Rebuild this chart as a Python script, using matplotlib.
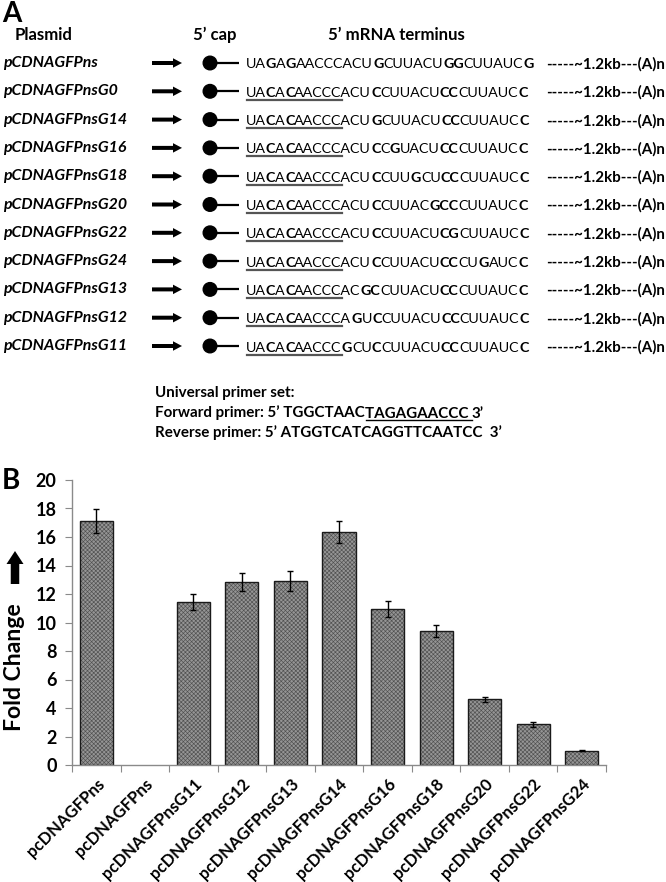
import numpy as np
import matplotlib
matplotlib.use("Agg")
import matplotlib.pyplot as plt
from matplotlib.patches import FancyArrow, Circle

plt.rcParams['font.family'] = ['Lato', 'DejaVu Sans']
plt.rcParams['hatch.linewidth'] = 0.45

# ---- panel A data ----
plasmids = ["pCDNAGFPns", "pCDNAGFPnsG0", "pCDNAGFPnsG14", "pCDNAGFPnsG16",
            "pCDNAGFPnsG18", "pCDNAGFPnsG20", "pCDNAGFPnsG22", "pCDNAGFPnsG24",
            "pCDNAGFPnsG13", "pCDNAGFPnsG12", "pCDNAGFPnsG11"]
# [..] = bold letters
sequences = ["UA[G]A[G]AACCCACU[G]CUUACU[GG]CUUAUC[G]",
             "UA[C]A[C]AACCCACU[C]CUUACU[CC]CUUAUC[C]",
             "UA[C]A[C]AACCCACU[G]CUUACU[CC]CUUAUC[C]",
             "UA[C]A[C]AACCCACU[C]C[G]UACU[CC]CUUAUC[C]",
             "UA[C]A[C]AACCCACU[C]CUU[G]CU[CC]CUUAUC[C]",
             "UA[C]A[C]AACCCACU[C]CUUAC[GCC]CUUAUC[C]",
             "UA[C]A[C]AACCCACU[C]CUUACU[CG]CUUAUC[C]",
             "UA[C]A[C]AACCCACU[C]CUUACU[CC]CU[G]AUC[C]",
             "UA[C]A[C]AACCCAC[GC]CUUACU[CC]CUUAUC[C]",
             "UA[C]A[C]AACCCA[G]U[C]CUUACU[CC]CUUAUC[C]",
             "UA[C]A[C]AACCC[G]CU[C]CUUACU[CC]CUUAUC[C]"]
underlined = [False] + [True] * 10
tail = "-----~1.2kb---(A)n"
fwd_primer = ["Forward primer: 5\u2019 TGGCTAAC", "TAGAGAACCC ", "3\u2019"]
rev_primer = "Reverse primer: 5\u2019 ATGGTCATCAGGTTCAATCC  3\u2019"

# ---- panel B data ----
categories = ["pcDNAGFPns", "pcDNAGFPns", "pcDNAGFPnsG11", "pcDNAGFPnsG12",
              "pcDNAGFPnsG13", "pcDNAGFPnsG14", "pcDNAGFPnsG16", "pcDNAGFPnsG18",
              "pcDNAGFPnsG20", "pcDNAGFPnsG22", "pcDNAGFPnsG24"]
fold_change = [17.1, np.nan, 11.45, 12.85, 12.9, 16.35, 10.95, 9.4, 4.6, 2.85, 1.0]
errors = [0.85, np.nan, 0.55, 0.65, 0.7, 0.8, 0.55, 0.45, 0.2, 0.15, 0.05]

W, H = 666, 882
fig = plt.figure(figsize=(W / 100, H / 100), dpi=100)
ax0 = fig.add_axes([0, 0, 1, 1])
ax0.set_xlim(0, W)
ax0.set_ylim(H, 0)
ax0.axis('off')
renderer = fig.canvas.get_renderer()


def width_of(txt, size, **kw):
    t = ax0.text(0, 0, txt, fontsize=size, **kw)
    w = t.get_window_extent(renderer).width
    t.remove()
    return w


def advance(txt, size, **kw):
    # width as the pen moves, without side padding
    return width_of("H" + txt + "H", size, **kw) - width_of("HH", size, **kw)


def fit(txt, target, **kw):
    return 10 * target / width_of(txt, 10, **kw)


def parse(seq):
    segs, bold, cur = [], False, ""
    for ch in seq:
        if ch in "[]":
            if cur:
                segs.append((cur, bold))
            cur, bold = "", ch == "["
        else:
            cur += ch
    if cur:
        segs.append((cur, bold))
    return segs


# panel letters
ax0.text(2, 14, "A", fontsize=20, fontweight='bold', va='center')
ax0.text(2, 481, "B", fontsize=20, fontweight='bold', va='center')

hdr = fit("Plasmid", 58, fontweight='bold')
ax0.text(15, 35, "Plasmid", fontsize=hdr, fontweight='bold', va='center')
ax0.text(193, 35, "5\u2019 cap", fontsize=hdr, fontweight='bold', va='center')
ax0.text(328, 35, "5\u2019 mRNA terminus", fontsize=hdr, fontweight='bold', va='center')

lab_size = fit("pCDNAGFPnsG14", 124, fontweight='bold', style='italic')
seq_size = fit("UACACAACCCACUCCUUACUCCCUUAUCC", 284)
tail_size = fit(tail, 119, fontweight='bold')

y0, step = 63, 28.3
for i, (name, seq) in enumerate(zip(plasmids, sequences)):
    y = y0 + i * step
    ax0.text(3, y, name, fontsize=lab_size, fontweight='bold', style='italic', va='center')
    ax0.add_patch(FancyArrow(152, y, 21, 0, width=4, head_width=9.5, head_length=9,
                             length_includes_head=False, color='black', lw=0))
    ax0.plot([210, 239], [y, y], color='black', lw=1.6, solid_capstyle='butt')
    ax0.add_patch(Circle((210, y), 6.8, color='black'))
    xb = 246
    yb = y + 5.5
    first10 = None
    count = 0
    for txt, b in parse(seq):
        wt = 'bold' if b else 'normal'
        ax0.text(xb, yb, txt, fontsize=seq_size, va='baseline', fontweight=wt)
        if first10 is None and count + len(txt) >= 10:
            first10 = xb + advance(txt[:10 - count], seq_size, fontweight=wt)
        count += len(txt)
        xb += advance(txt, seq_size, fontweight=wt)
    if underlined[i]:
        ax0.plot([247, first10], [yb + 3, yb + 3], color='#555555', lw=1.6)
    ax0.text(665, yb, tail, fontsize=tail_size, fontweight='bold', va='baseline', ha='right')

# primer set
pr_size = fit(rev_primer, 347, fontweight='bold')
ax0.text(155, 396.5, "Universal primer set:", fontsize=pr_size, fontweight='bold', va='baseline')
xb = 155
for k, txt in enumerate(fwd_primer):
    ax0.text(xb, 417.5, txt, fontsize=pr_size, fontweight='bold', va='baseline')
    w = advance(txt, pr_size, fontweight='bold')
    if k == 1:
        ax0.plot([xb + 1, xb + w], [420, 420], color='black', lw=1)
    xb += w
ax0.text(155, 437.5, rev_primer, fontsize=pr_size, fontweight='bold', va='baseline')

# y label with arrow
ax0.add_patch(FancyArrow(15, 584, 0, -20, width=8.5, head_width=17, head_length=13,
                         color='black', lw=0))
yl_size = fit("Fold Change", 128, fontweight='bold')
ax0.text(15, 667, "Fold Change", fontsize=yl_size, fontweight='bold', rotation=90,
         va='center', ha='center')

# ---- panel B ----
ax = fig.add_axes([72 / W, (H - 765) / H, 534 / W, 285 / H])
x = np.arange(len(categories))
ax.bar(x, fold_change, width=0.68, color='#959595', edgecolor='#505050', hatch='xxxxxxxx', lw=0)
ax.bar(x, fold_change, width=0.68, fill=False, edgecolor='#1a1a1a', lw=1.0)
ax.errorbar(x, fold_change, yerr=errors, fmt='none', ecolor='black', elinewidth=1,
            capsize=2.5, capthick=1)
ax.set_xlim(-0.5, len(categories) - 0.5)
ax.set_ylim(0, 20)
ax.set_yticks(np.arange(0, 21, 2))
for s in ['top', 'right']:
    ax.spines[s].set_visible(False)
for s in ['left', 'bottom']:
    ax.spines[s].set_color('#8a8a8a')
    ax.spines[s].set_linewidth(1)
ax.set_xticks(np.arange(-0.5, len(categories), 1))
ax.set_xticklabels([])
ax.set_xticks(x, minor=True)
ax.set_xticklabels(categories, minor=True, rotation=45, ha='right',
                   rotation_mode='anchor', fontweight='bold', fontsize=12)
ax.tick_params(axis='x', which='major', length=5, color='#8a8a8a', direction='out')
ax.tick_params(axis='x', which='minor', length=0, pad=8)
ax.tick_params(axis='y', length=5, color='#8a8a8a', direction='out', labelsize=13, pad=6)
for lbl in ax.get_yticklabels():
    lbl.set_fontweight('bold')

fig.savefig("out.png", dpi=100)
